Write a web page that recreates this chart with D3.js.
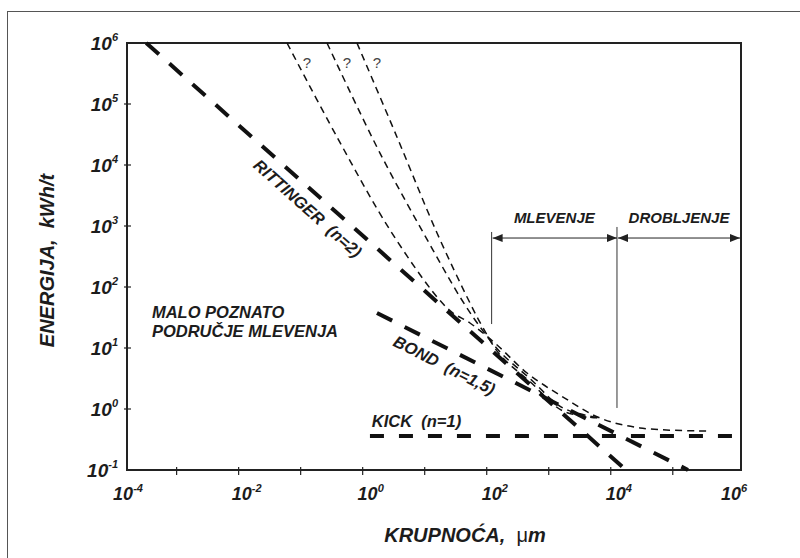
<!DOCTYPE html>
<html>
<head>
<meta charset="utf-8">
<script src="https://cdn.jsdelivr.net/npm/d3@7"></script>
<style>
  body { margin: 0; background: #fff; }
  svg { display: block; }
  text { font-family: "Liberation Sans", Arial, sans-serif; font-weight: bold; font-style: italic; fill: #1c1c1c; white-space: pre; }
</style>
</head>
<body>
<div id="chart"></div>
<script>
// decade ticks, as powers of ten
const xTickExps = [-3, -2, -1, 0, 1, 2, 3, 4, 5];
const xLabelExps = [-4, -2, 0, 2, 4, 6];
const yTickExps = [0, 1, 2, 3, 4, 5];
const yLabelExps = [-1, 0, 1, 2, 3, 4, 5, 6];

// straight laws (size um, energy kWh/t)
const rittinger = [{x: 3.24e-4, y: 1e6}, {x: 1.76e4, y: 0.1}];
const bond = [{x: 1.70, y: 37.5}, {x: 1.76e5, y: 0.1}];
const kick = [{x: 1.31, y: 0.36}, {x: 9.4e5, y: 0.36}];

// the three uncertain curves ("?")
const curveA = [
  {x: 0.0603, y: 1e6}, {x: 0.385, y: 2.88e4}, {x: 2.76, y: 860}, {x: 15.8, y: 68.5},
  {x: 28.6, y: 37.5}, {x: 53.7, y: 25.7}, {x: 147, y: 11.2}, {x: 447, y: 3.89},
  {x: 1700, y: 1.57}, {x: 6710, y: 0.711}, {x: 29600, y: 0.489}, {x: 356000, y: 0.436}
];
const curveB = [
  {x: 0.266, y: 1e6}, {x: 1.90, y: 1.57e4}, {x: 13.6, y: 404}, {x: 37.1, y: 68.5},
  {x: 72.3, y: 24.7}, {x: 164, y: 8.63}, {x: 499, y: 3.15}, {x: 1698, y: 1.04}, {x: 6710, y: 0.711}
];
const curveC = [
  {x: 0.809, y: 1e6}, {x: 3.57, y: 2.88e4}, {x: 15.8, y: 768}, {x: 53.7, y: 54.7},
  {x: 84, y: 23.0}, {x: 164, y: 7.71}, {x: 499, y: 2.81}, {x: 1698, y: 0.927}, {x: 6710, y: 0.711}
];

const zones = [
  {name: "MLEVENJE", from: 120, to: 12600},
  {name: "DROBLJENJE", from: 12600, to: null}
];
const dividers = [{x: 120, lo: 24.7, hi: 798}, {x: 12600, lo: 1.04, hi: 964}];
const zoneArrowY = 635;

const width = 800, height = 558;

let svg = d3.select("#chart")
    .append("svg")
    .attr("width", width)
    .attr("height", height)

let x = d3.scaleLog()
    .domain([Math.pow(10, -3.8), Math.pow(10, 6.1)])
    .range([127, 741])
let y = d3.scaleLog()
    .domain([0.1, 1e6])
    .range([470, 43])

const [x0, x1] = x.range();
const [y0, y1] = y.range();

// arrow head
svg.append("defs").append("marker")
    .attr("id", "head")
    .attr("viewBox", "0 0 10 8")
    .attr("refX", 10)
    .attr("refY", 4)
    .attr("markerWidth", 10)
    .attr("markerHeight", 8)
    .attr("markerUnits", "userSpaceOnUse")
    .attr("orient", "auto-start-reverse")
    .append("path")
    .attr("d", "M0,0L10,4L0,8Z")
    .attr("fill", "#222")

// outer picture border (only left/top show)
svg.append("rect")
    .attr("x", 7.5).attr("y", 11.5)
    .attr("width", 820).attr("height", 580)
    .attr("fill", "none")
    .attr("stroke", "#555")
    .attr("stroke-width", 1)

// plot frame
svg.append("rect")
    .attr("x", x0).attr("y", y1)
    .attr("width", x1 - x0).attr("height", y0 - y1)
    .attr("fill", "none")
    .attr("stroke", "#222")
    .attr("stroke-width", 2)

svg.selectAll("line.xtick")
    .data(xTickExps)
    .enter()
    .append("line")
    .classed("xtick", true)
    .attr("x1", d => x(Math.pow(10, d)))
    .attr("x2", d => x(Math.pow(10, d)))
    .attr("y1", y0 - 3)
    .attr("y2", y0 + 5)
    .attr("stroke", "#222")
    .attr("stroke-width", 1.2)

svg.selectAll("line.ytick")
    .data(yTickExps)
    .enter()
    .append("line")
    .classed("ytick", true)
    .attr("x1", x0 - 3)
    .attr("x2", x0 + 4)
    .attr("y1", d => y(Math.pow(10, d)))
    .attr("y2", d => y(Math.pow(10, d)))
    .attr("stroke", "#222")
    .attr("stroke-width", 1.2)

function powLabel(sel, size, supSize) {
    sel.append("tspan").text("10").style("font-size", size + "px")
    sel.append("tspan").text(d => d < 0 ? "-" + (-d) : d)
        .attr("dy", -Math.round(size * 0.45))
        .style("font-size", supSize + "px")
}

svg.selectAll("text.xlab")
    .data(xLabelExps)
    .enter()
    .append("text")
    .classed("xlab", true)
    .attr("x", d => Math.min(Math.max(x(Math.pow(10, d)) + 8, x0 + 1), x1 - 7))
    .attr("y", 500)
    .attr("text-anchor", "middle")
    .call(powLabel, 18, 11)

svg.selectAll("text.ylab")
    .data(yLabelExps)
    .enter()
    .append("text")
    .classed("ylab", true)
    .attr("x", x0 - 9)
    .attr("y", d => y(Math.pow(10, d)) + 7)
    .attr("text-anchor", "end")
    .call(powLabel, 19, 11)

// axis titles
svg.append("text")
    .attr("transform", `translate(54,${(y0 + y1) / 2 + 4}) rotate(-90)`)
    .attr("text-anchor", "middle")
    .style("font-size", "20px")
    .text("ENERGIJA,  kWh/t")

let xt = svg.append("text")
    .attr("x", 465)
    .attr("y", 542)
    .attr("text-anchor", "middle")
    .style("font-size", "20px")
xt.append("tspan").text("KRUPNOĆA,  ")
xt.append("tspan").text("μ").style("font-style", "normal").style("font-weight", "normal")
xt.append("tspan").text("m")

let line = d3.line()
    .x(d => x(d.x))
    .y(d => y(d.y))

let smooth = d3.line()
    .x(d => x(d.x))
    .y(d => y(d.y))
    .curve(d3.curveCatmullRom.alpha(0.5))

// uncertain curves
svg.selectAll("path.hukki")
    .data([curveA, curveB, curveC])
    .enter()
    .append("path")
    .classed("hukki", true)
    .attr("d", smooth)
    .attr("fill", "none")
    .attr("stroke", "#111")
    .attr("stroke-width", 1.5)
    .attr("stroke-dasharray", "7,5")

svg.selectAll("text.q")
    .data([curveA, curveB, curveC])
    .enter()
    .append("text")
    .classed("q", true)
    .attr("x", d => x(d[0].x) + 20)
    .attr("y", d => y(d[0].y) + 25)
    .attr("text-anchor", "middle")
    .style("font-size", "15px")
    .style("font-weight", "normal")
    .style("font-style", "normal")
    .style("fill", "#444")
    .text("?")

// the three laws
svg.selectAll("path.law")
    .data([rittinger, bond])
    .enter()
    .append("path")
    .classed("law", true)
    .attr("d", line)
    .attr("fill", "none")
    .attr("stroke", "#111")
    .attr("stroke-width", 4)
    .attr("stroke-dasharray", "17,14")

svg.append("path")
    .datum(kick)
    .attr("d", line)
    .attr("fill", "none")
    .attr("stroke", "#111")
    .attr("stroke-width", 4)
    .attr("stroke-dasharray", "14,15")

function lawLabel(pts, at, offset, txt) {
    let p1 = [x(pts[0].x), y(pts[0].y)], p2 = [x(pts[1].x), y(pts[1].y)];
    let px = x(at);
    let py = p1[1] + (px - p1[0]) / (p2[0] - p1[0]) * (p2[1] - p1[1]);
    let ang = Math.atan2(p2[1] - p1[1], p2[0] - p1[0]) * 180 / Math.PI;
    svg.append("text")
        .attr("transform", `translate(${px},${py}) rotate(${ang})`)
        .attr("y", offset)
        .style("font-size", "16.5px")
        .text(txt)
}

lawLabel(rittinger, 0.0286, 22, "RITTINGER  (n=2)")
lawLabel(bond, 4.3, 22, "BOND  (n=1,5)")
lawLabel(kick, 1.4, -9, "KICK  (n=1)")

// size ranges
svg.selectAll("line.divider")
    .data(dividers)
    .enter()
    .append("line")
    .classed("divider", true)
    .attr("x1", d => x(d.x))
    .attr("x2", d => x(d.x))
    .attr("y1", d => y(d.hi))
    .attr("y2", d => y(d.lo))
    .attr("stroke", "#333")
    .attr("stroke-width", 1)

svg.selectAll("line.zone")
    .data(zones)
    .enter()
    .append("line")
    .classed("zone", true)
    .attr("x1", d => x(d.from) + 1)
    .attr("x2", d => (d.to ? x(d.to) : x1 - 1))
    .attr("y1", y(zoneArrowY))
    .attr("y2", y(zoneArrowY))
    .attr("stroke", "#222")
    .attr("stroke-width", 1)
    .attr("marker-start", "url(#head)")
    .attr("marker-end", "url(#head)")

svg.selectAll("text.zone")
    .data(zones)
    .enter()
    .append("text")
    .classed("zone", true)
    .attr("x", d => (x(d.from) + (d.to ? x(d.to) : x1)) / 2)
    .attr("y", y(zoneArrowY) - 15)
    .attr("text-anchor", "middle")
    .style("font-size", "15px")
    .text(d => d.name)

// region note
let note = svg.append("text")
    .attr("x", x(4e-4))
    .attr("y", y(31))
    .style("font-size", "16.5px")
note.append("tspan").text("MALO POZNATO")
note.append("tspan").attr("x", x(4e-4)).attr("dy", 19).text("PODRUČJE MLEVENJA")
</script>
</body>
</html>
